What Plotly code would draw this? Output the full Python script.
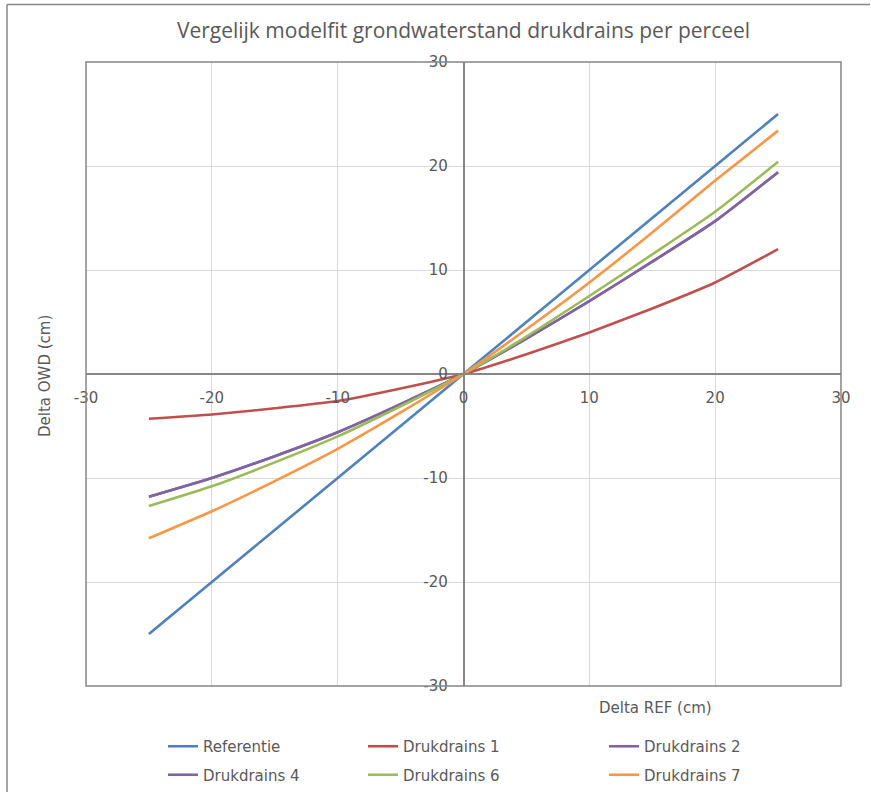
import plotly.graph_objects as go

# ---- data ----
x_vals = [-25, -20, -15, -10, -5, 0, 5, 10, 15, 20, 25]
referentie = [-25, -20, -15, -10, -5, 0, 5, 10, 15, 20, 25]
drukdrains_1 = [-4.3, -3.9, -3.3, -2.6, -1.4, 0, 1.9, 4.0, 6.3, 8.8, 12.0]
drukdrains_2 = [-11.8, -10.0, -7.9, -5.6, -2.9, 0, 3.4, 7.0, 10.8, 14.7, 19.4]
drukdrains_4 = [-11.8, -10.0, -7.9, -5.6, -2.9, 0, 3.4, 7.0, 10.8, 14.7, 19.4]
drukdrains_6 = [-12.7, -10.8, -8.5, -6.0, -3.1, 0, 3.6, 7.5, 11.5, 15.6, 20.4]
drukdrains_7 = [-15.8, -13.2, -10.3, -7.2, -3.7, 0, 4.3, 8.8, 13.6, 18.6, 23.4]

tick_vals = [-30, -20, -10, 0, 10, 20, 30]
tick_text = ["-30", "-20", "-10", "0", "10", "20", "30"]

title_text = "Vergelijk modelfit grondwaterstand drukdrains per perceel"
x_title = "Delta REF (cm)"
y_title = "Delta OWD (cm)"

series = [
    ("Referentie", referentie, "#4F81BD", "legend"),
    ("Drukdrains 1", drukdrains_1, "#C0504D", "legend2"),
    ("Drukdrains 2", drukdrains_2, "#8064A2", "legend3"),
    ("Drukdrains 4", drukdrains_4, "#8064A2", "legend"),
    ("Drukdrains 6", drukdrains_6, "#9BBB59", "legend2"),
    ("Drukdrains 7", drukdrains_7, "#F79646", "legend3"),
]

fig = go.Figure()
for name, vals, color, lg in series:
    fig.add_trace(go.Scatter(
        x=x_vals, y=vals, name=name, mode="lines", legendgroup=name,
        line=dict(color=color, width=2.6, shape="spline", smoothing=0.5),
        legend=lg,
    ))

W, H = 871, 793
L, R, T, B = 86, 30, 62, 107
pw, ph = W - L - R, H - T - B

def px(xp):
    return (xp - L) / pw

def py(yp):
    return (H - B - yp) / ph

tick_font = dict(family="DejaVu Sans", size=15, color="#595959")
legend_font = dict(family="DejaVu Sans", size=15, color="#595959")

axis_common = dict(
    range=[-30, 30], tickvals=tick_vals, ticktext=tick_text, showgrid=True,
    gridcolor="#D9D9D9", gridwidth=1, zeroline=False, showline=True,
    linecolor="#868686", linewidth=1.5, ticks="", tickfont=tick_font,
    anchor="free", position=0.5,
)

leg_common = dict(orientation="v", yanchor="top", xanchor="left",
                  font=legend_font, bgcolor="rgba(0,0,0,0)", itemwidth=30,
                  traceorder="grouped", tracegroupgap=6)

frame = dict(color="#878787", width=1.5)

fig.update_layout(
    width=W, height=H,
    margin=dict(l=L, r=R, t=T, b=B, autoexpand=False),
    paper_bgcolor="white", plot_bgcolor="white",
    title=dict(text=title_text, x=0.5, xref="paper", xanchor="center",
               y=1 - 31 / H, yanchor="middle",
               font=dict(family="Open Sans", size=21, color="#595959")),
    xaxis=dict(**axis_common, ticklabelstandoff=10),
    yaxis=dict(**axis_common, ticklabelstandoff=12),
    legend=dict(x=px(163), y=py(730), **leg_common),
    legend2=dict(x=px(363), y=py(730), **leg_common),
    legend3=dict(x=px(604), y=py(730), **leg_common),
    annotations=[
        dict(text=x_title, xref="paper", yref="paper", x=px(655), y=py(708),
             showarrow=False, xanchor="center", yanchor="middle",
             font=dict(family="DejaVu Sans", size=15, color="#595959")),
        dict(text=y_title, xref="paper", yref="paper", x=px(45), y=py(376),
             showarrow=False, xanchor="center", yanchor="middle", textangle=-90,
             font=dict(family="DejaVu Sans", size=15, color="#595959")),
    ],
    shapes=[
        dict(type="rect", xref="paper", yref="paper", x0=0, x1=1, y0=0, y1=1,
             line=dict(color="#868686", width=1.5), layer="above"),
        dict(type="line", xref="paper", yref="paper",
             x0=px(7), x1=px(7), y0=py(792), y1=py(4.5), line=frame),
        dict(type="line", xref="paper", yref="paper",
             x0=px(7), x1=px(870), y0=py(4.5), y1=py(4.5), line=frame),
    ],
)

fig.write_html(
    "out.html",
    config={"displayModeBar": False},
    post_script="document.body.style.margin='0';document.body.style.overflow='hidden';",
)
